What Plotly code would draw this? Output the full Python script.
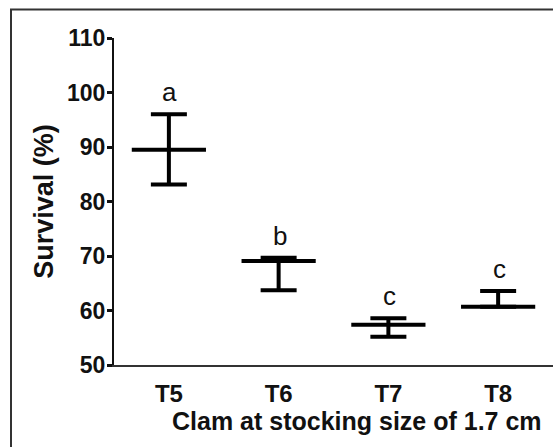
import plotly.graph_objects as go

# Survival of clams per treatment: mean with min/max range
groups = ["T5", "T6", "T7", "T8"]
mean_survival = [89.5, 69.1, 57.4, 60.7]
max_survival = [96.0, 69.7, 58.6, 63.6]
min_survival = [83.1, 63.7, 55.2, 60.7]
sig_letters = ["a", "b", "c", "c"]

x_pos = list(range(len(groups)))
err_plus = [hi - m for hi, m in zip(max_survival, mean_survival)]
err_minus = [m - lo for lo, m in zip(min_survival, mean_survival)]

W, H = 553, 447
M_L, M_R, M_T, M_B = 114, 0, 38, 82
plot_w = W - M_L - M_R
plot_h = H - M_T - M_B

fig = go.Figure()
fig.add_trace(go.Scatter(
    x=x_pos,
    y=mean_survival,
    mode="markers",
    # line-ew spans 1.4 x marker size -> ~74 px wide mean bar
    marker=dict(symbol="line-ew", size=53, color="black",
                line=dict(width=4, color="black")),
    error_y=dict(type="data", symmetric=False, array=err_plus,
                 arrayminus=err_minus, width=18, thickness=4,
                 color="black"),
    showlegend=False,
    hoverinfo="skip",
))

# significance letters above each range bar
for xi, hi, lab in zip(x_pos, max_survival, sig_letters):
    fig.add_annotation(x=xi, y=hi, text=lab, showarrow=False,
                       yanchor="middle", yshift=22, xshift=1,
                       font=dict(family="Liberation Sans", size=26,
                                 color="#111"))

# x-axis title
fig.add_annotation(xref="paper", yref="paper",
                   x=(357 - M_L) / plot_w, y=(H - M_B - 421) / plot_h,
                   text="<b>Clam at stocking size of 1.7 cm</b>",
                   showarrow=False, xanchor="center", yanchor="middle",
                   font=dict(family="Liberation Sans", size=25,
                             color="#111"))

# outer frame around the whole figure
fig.add_shape(type="rect", xref="paper", yref="paper",
              x0=(11 - M_L) / plot_w, x1=1.3,
              y0=-0.4, y1=(H - M_B - 9.5) / plot_h,
              line=dict(color="#333", width=2), fillcolor="rgba(0,0,0,0)",
              layer="below")

fig.update_xaxes(
    range=[-0.5, 3.5],
    tickmode="array", tickvals=x_pos, ticktext=[f"<b>{g}</b>" for g in groups],
    showline=True, linecolor="#333", linewidth=1.5,
    ticks="", showgrid=False, zeroline=False,
    ticklabelstandoff=6,
    tickfont=dict(family="Liberation Sans", size=24, color="#111"),
)
fig.update_yaxes(
    range=[50, 110], dtick=10, tick0=50,
    showline=True, linecolor="#111", linewidth=2,
    ticks="outside", ticklen=5, tickwidth=3, tickcolor="#111",
    showgrid=False, zeroline=False,
    ticklabelstandoff=-3,
    tickfont=dict(family="Liberation Sans", size=23, color="#111"),
    tickprefix="<b>", ticksuffix="</b>",
    title=dict(text="<b>Survival (%)</b>", standoff=6,
               font=dict(family="Liberation Sans", size=27, color="#111")),
)

fig.update_layout(
    width=W, height=H,
    margin=dict(l=M_L, r=M_R, t=M_T, b=M_B, pad=0),
    paper_bgcolor="white", plot_bgcolor="white",
)

fig.write_html("out.html")
